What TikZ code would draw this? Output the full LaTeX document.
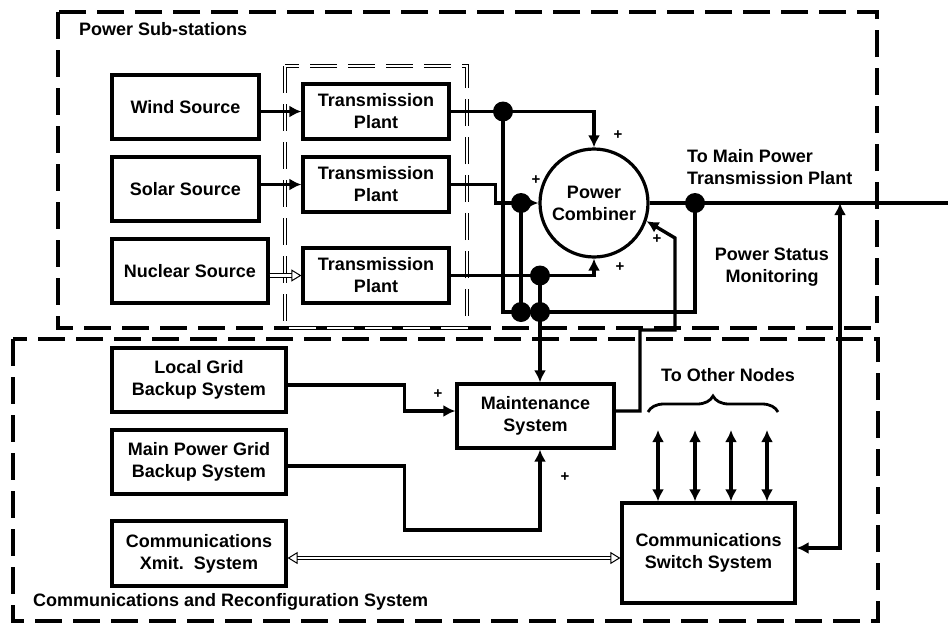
\documentclass[tikz,border=0pt]{standalone}
\usepackage{fontspec}
\setmainfont{Liberation Sans}
\usetikzlibrary{arrows.meta,decorations.pathreplacing,calc}
\begin{document}
\begin{tikzpicture}[x=1pt,y=-1pt,
  txt/.style={font=\bfseries\fontsize{18}{22}\selectfont, align=center, inner sep=0pt},
  blk/.style={txt, draw, line width=3.2pt, rectangle},
  dot/.style={circle, fill, inner sep=0pt, minimum size=20pt},
  wire/.style={line width=3.4pt},
  tip/.tip={Latex[length=12pt,width=12pt]},
  arr/.style={wire, -tip},
  darr/.style={wire, tip-tip},
  htip/.tip={Triangle[open,length=10pt,width=12pt,line width=1pt]},
  hollowarr/.style={double=white, double distance=2.6pt, line width=1pt, -htip},
  hollowdarr/.style={double=white, double distance=2.6pt, line width=1pt, htip-htip},
  outerbox/.style={dash pattern=on 27pt off 11pt, line width=4.2pt},
  innerbox/.style={dash pattern=on 27pt off 11pt, double=white, double distance=1.8pt, line width=1.1pt},
  plus/.style={font=\bfseries\fontsize{15}{15}\selectfont, inner sep=0pt}
]
\fill[white] (0,0) rectangle (948,624);
\useasboundingbox (0,0) rectangle (948,624);

% group boxes
\draw[outerbox] (58,12) rectangle (877,328);
\draw[outerbox] (13,339) rectangle (878,621);
\draw[innerbox] (285,66) rectangle (467,328);

\node[txt, anchor=west] (lblpower) at (79,29) {Power Sub-stations};
\node[txt, anchor=west] (lblcomm) at (33,602) {Communications and Reconfiguration System};

% sources
\node[blk, minimum width=147pt, minimum height=64pt] (wind) at (185.5,107) {Wind Source};
\node[blk, minimum width=147pt, minimum height=64pt] (solar) at (185.5,189) {Solar Source};
\node[blk, minimum width=156pt, minimum height=64pt] (nuclear) at (190,271) {Nuclear Source};

% transmission plants
\node[blk, minimum width=146pt, minimum height=55pt] (tp1) at (376,111.5) {Transmission\\Plant};
\node[blk, minimum width=146pt, minimum height=55pt] (tp2) at (376,184.5) {Transmission\\Plant};
\node[blk, minimum width=146pt, minimum height=55pt] (tp3) at (376,275.5) {Transmission\\Plant};

% combiner
\node[txt, draw, circle, line width=3.2pt, minimum size=108pt] (comb) at (594,203) {Power\\Combiner};

% lower blocks
\node[blk, minimum width=174pt, minimum height=64pt] (local) at (199,380) {Local Grid\\Backup System};
\node[blk, minimum width=174pt, minimum height=64pt] (maingrid) at (199,462) {Main Power Grid\\Backup System};
\node[blk, minimum width=174pt, minimum height=65pt] (xmit) at (199,553.5) {Communications\\Xmit.\ \ System};
\node[blk, minimum width=157pt, minimum height=64pt] (maint) at (535.5,416) {Maintenance\\System};
\node[blk, minimum width=173pt, minimum height=100pt] (switch) at (708.5,553) {Communications\\Switch System};

% junction dots
\node[dot] (d1) at (503,111.5) {};
\node[dot] (d2) at (521,203) {};
\node[dot] (d3) at (540,275.5) {};
\node[dot] (d4) at (521,312) {};
\node[dot] (d5) at (540,312) {};
\node[dot] (dout) at (695,203) {};

% coordinates
\coordinate (outend) at (948,203);
\coordinate (ps) at (840,203);
\coordinate (fb1) at (640,330);
\coordinate (fb2) at (675,330);
\coordinate (fb3) at (675,238);
\coordinate (o1) at (658,430);
\coordinate (o2) at (695,430);
\coordinate (o3) at (731,430);
\coordinate (o4) at (767,430);
\coordinate (braceL) at (648,412);
\coordinate (braceR) at (778,412);

% sources to plants
\draw[arr] (wind.east |- tp1.west) -- (tp1.west);
\draw[arr] (solar.east |- tp2.west) -- (tp2.west);
\draw[hollowarr] (nuclear.east |- tp3.west) -- (tp3.west);

% plants to combiner
\draw[arr] (tp1.east) -- (d1.center) -| (comb.north);
\draw[wire] (tp2.east) -- ++(45,0) |- (d2.center);
\draw[arr] (d2.center) -- (comb.west);
\draw[arr] (tp3.east) -- (d3.center) -| (comb.south);

% monitoring bus
\draw[wire] (d1.center) |- (d4.center) -- (d5.center) -| (dout.center);
\draw[wire] (d2.center) -- (d4.center);
\draw[arr] (d3.center) -- (d3 |- maint.north);

% output
\draw[wire] (comb.east) -- (dout.center) -- (outend);
\draw[darr] ([yshift=5pt]switch.east) -| (ps);

% feedback from maintenance
\draw[arr] ([yshift=5pt]maint.east) -| (fb1) -- (fb2) -- (fb3) -- (comb.-19);

% backups to maintenance
\draw[arr] ([yshift=-5pt]local.east) -- ++(117,0) |- ([yshift=5pt]maint.west);
\draw[arr] ([yshift=-4pt]maingrid.east) -- ++(117,0) -- ++(0,64) -| ([xshift=4.5pt]maint.south);

% comms
\draw[hollowdarr] ([yshift=-4.5pt]xmit.east) -- ([yshift=-4.5pt]xmit.east -| switch.west);

% to other nodes
\draw[darr] (o1) -- (o1 |- switch.north);
\draw[darr] (o2) -- (o2 |- switch.north);
\draw[darr] (o3) -- (o3 |- switch.north);
\draw[darr] (o4) -- (o4 |- switch.north);
\draw[line width=2.8pt, decorate, decoration={brace, amplitude=16pt}] (braceL) -- (braceR);
\node[txt] (tother) at (728,375) {To Other Nodes};

% labels
\node[txt, align=left, anchor=west] (tomain) at (687,167) {To Main Power\\Transmission Plant};
\node[txt] (pstat) at (772,267) {Power Status\\Monitoring};

% plus signs
\node[plus] (p1) at (618,135) {+};
\node[plus] (p2) at (536,180) {+};
\node[plus] (p3) at (620,267) {+};
\node[plus] (p4) at (657,239) {+};
\node[plus] (p5) at (438,394) {+};
\node[plus] (p6) at (565,477) {+};
\end{tikzpicture}
\end{document}
